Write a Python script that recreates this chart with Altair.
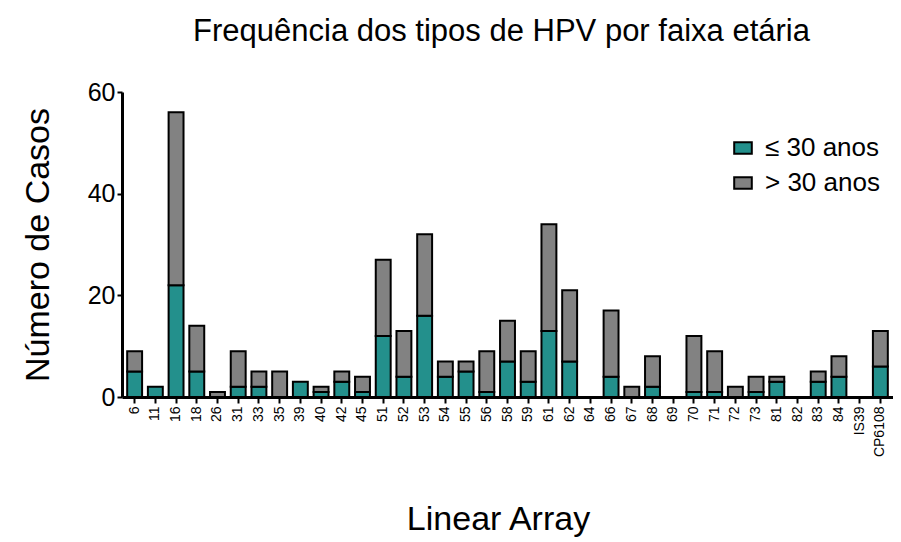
import altair as alt
import pandas as pd

categories = ["6", "11", "16", "18", "26", "31", "33", "35", "39", "40", "42", "45",
              "51", "52", "53", "54", "55", "56", "58", "59", "61", "62", "64", "66",
              "67", "68", "69", "70", "71", "72", "73", "81", "82", "83", "84", "IS39", "CP6108"]
young = [5, 2, 22, 5, 0, 2, 2, 0, 3, 1, 3, 1,
         12, 4, 16, 4, 5, 1, 7, 3, 13, 7, 0, 4,
         0, 2, 0, 1, 1, 0, 1, 3, 0, 3, 4, 0, 6]
old = [4, 0, 34, 9, 1, 7, 3, 5, 0, 1, 2, 3,
       15, 9, 16, 3, 2, 8, 8, 6, 21, 14, 0, 13,
       2, 6, 0, 11, 8, 2, 3, 1, 0, 2, 4, 0, 7]
groups = ["≤ 30 anos", "> 30 anos"]
colors = ["#23908c", "#828282"]

rows = []
for c, y, o in zip(categories, young, old):
    rows.append({"tipo": c, "grupo": groups[0], "casos": y, "ordem": 0})
    rows.append({"tipo": c, "grupo": groups[1], "casos": o, "ordem": 1})
df = pd.DataFrame(rows)

font = "Liberation Sans"

chart = alt.Chart(df).transform_filter("datum.casos > 0").mark_bar(
    stroke="black", strokeWidth=2
).encode(
    x=alt.X("tipo:N", sort=categories,
            scale=alt.Scale(domain=categories, paddingInner=0.28, paddingOuter=0.25),
            axis=alt.Axis(title="Linear Array", labelAngle=270, labelFontSize=14,
                          labelFont=font, labelColor="black", domainColor="black",
                          domainWidth=3, tickColor="black", tickWidth=2, tickSize=6,
                          labelPadding=3, titleFont=font, titleFontSize=34,
                          titleFontWeight="normal", titleColor="black", titlePadding=46,
                          titleX=376)),
    y=alt.Y("casos:Q", stack="zero", scale=alt.Scale(domain=[0, 60], nice=False),
            axis=alt.Axis(title="Número de Casos", values=[0, 20, 40, 60], grid=False,
                          labelFontSize=25, labelFont=font, labelColor="black",
                          domainColor="black", domainWidth=3, tickColor="black",
                          tickWidth=2, tickSize=5, labelPadding=2,
                          titleFont=font, titleFontSize=34, titleFontWeight="normal",
                          titleColor="black", titlePadding=32)),
    color=alt.Color("grupo:N", sort=groups,
                    scale=alt.Scale(domain=groups, range=colors),
                    legend=alt.Legend(title=None, orient="none", legendX=608, legendY=43,
                                      labelFontSize=26, labelFont=font, labelColor="black",
                                      symbolType="M-1,-0.65L1,-0.65L1,0.65L-1,0.65Z",
                                      symbolSize=310, symbolStrokeColor="black",
                                      symbolStrokeWidth=2, rowPadding=9, labelOffset=9)),
    order=alt.Order("ordem:Q"),
).properties(
    width=771, height=305,
    title=alt.Title("Frequência dos tipos de HPV por faixa etária", font=font, fontSize=31,
                    fontWeight="normal", color="black", anchor="middle", dx=-6, offset=32),
    padding={"left": 114, "top": 84, "right": 0, "bottom": 150},
    autosize=alt.AutoSizeParams(type="none"),
).configure_view(stroke=None)

chart.save("out.html", embed_options={"renderer": "svg", "actions": False})
